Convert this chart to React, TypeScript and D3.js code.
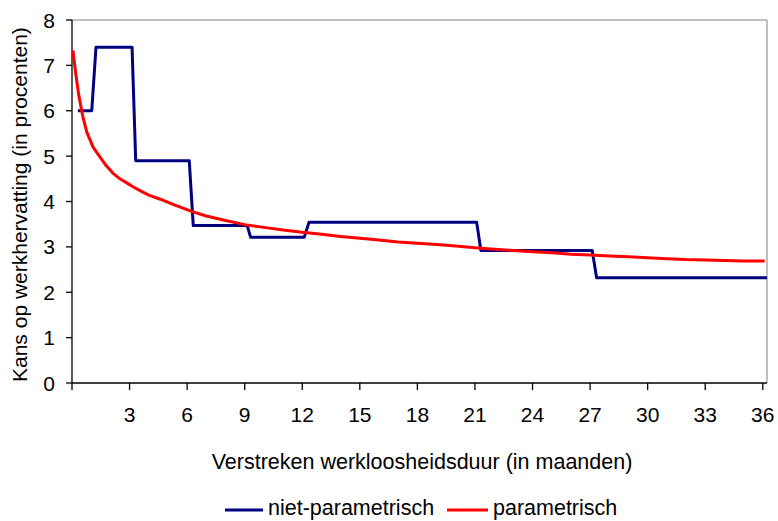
import { useEffect, useRef } from 'react';
import * as d3 from 'd3';

// niet-parametrisch (step estimate)
const blueMonths = [0.31, 1.03, 1.25, 3.13, 3.32, 6.11, 6.32, 9.13, 9.31, 12.1, 12.35, 21.09, 21.31, 27.11, 27.34, 36.22];
const blueValues = [6.0, 6.0, 7.4, 7.4, 4.9, 4.9, 3.47, 3.47, 3.21, 3.21, 3.54, 3.54, 2.92, 2.92, 2.32, 2.32];

// parametrisch (smooth estimate)
const redMonths = [0.05, 0.2, 0.35, 0.55, 0.77, 1.1, 1.46, 1.8, 2.14, 2.5, 2.85, 3.2, 3.5, 4, 4.6, 5.3, 6.3, 7, 8, 9, 10, 11, 12, 13, 14, 15, 16, 17, 18, 19, 20, 21, 22, 23, 24, 25, 26, 27, 28, 29, 30, 31, 32, 33, 34, 35, 36.1];
const redValues = [7.33, 6.8, 6.35, 5.9, 5.53, 5.2, 4.98, 4.78, 4.62, 4.5, 4.41, 4.32, 4.25, 4.14, 4.05, 3.93, 3.77, 3.68, 3.58, 3.49, 3.43, 3.37, 3.32, 3.28, 3.23, 3.19, 3.15, 3.11, 3.08, 3.05, 3.02, 2.98, 2.95, 2.92, 2.89, 2.87, 2.84, 2.82, 2.8, 2.78, 2.76, 2.74, 2.72, 2.71, 2.7, 2.69, 2.69];

const xTicks = [3, 6, 9, 12, 15, 18, 21, 24, 27, 30, 33, 36];
const yTicks = [0, 1, 2, 3, 4, 5, 6, 7, 8];

const seriesNames = ['niet-parametrisch', 'parametrisch'];
const seriesColors = ['#000080', '#FF0000'];

const FONT = 'Liberation Sans, Arial, sans-serif';

export default function App() {
  const svgRef = useRef<SVGSVGElement>(null);

  useEffect(() => {
    document.body.style.margin = '0';
    if (!svgRef.current) return;
    const svg = d3.select(svgRef.current);
    svg.selectAll('*').remove();

    const left = 72, right = 767, top = 20, bottom = 383;

    const x = d3.scaleLinear().domain([0, 36.22]).range([left, right]);
    const y = d3.scaleLinear().domain([0, 8]).range([bottom, top]);

    // gray frame top/right
    svg.append('path')
      .attr('d', `M${left},${top}H${right}V${bottom}`)
      .attr('fill', 'none')
      .attr('stroke', '#808080')
      .attr('stroke-width', 1);

    // y axis
    const yAxis = svg.append('g').attr('transform', `translate(${left},0)`);
    yAxis.append('line').attr('x1', 0).attr('x2', 0).attr('y1', top).attr('y2', bottom)
      .attr('stroke', '#000').attr('stroke-width', 1.3);
    yTicks.forEach(t => {
      yAxis.append('line').attr('x1', -6).attr('x2', 0).attr('y1', y(t)).attr('y2', y(t))
        .attr('stroke', '#000').attr('stroke-width', 1.3);
      yAxis.append('text')
        .attr('x', -17).attr('y', y(t) + 7.5)
        .attr('text-anchor', 'end')
        .attr('font-family', FONT).attr('font-size', 21).attr('fill', '#000')
        .text(t);
    });

    // x axis
    const xAxis = svg.append('g');
    xAxis.append('line').attr('x1', left).attr('x2', right).attr('y1', bottom).attr('y2', bottom)
      .attr('stroke', '#000').attr('stroke-width', 1.3);
    [0, ...xTicks].forEach(t => {
      xAxis.append('line').attr('x1', x(t)).attr('x2', x(t)).attr('y1', bottom).attr('y2', bottom + 7)
        .attr('stroke', '#000').attr('stroke-width', 1.3);
    });
    xTicks.forEach(t => {
      xAxis.append('text')
        .attr('x', x(t)).attr('y', 422)
        .attr('text-anchor', 'middle')
        .attr('font-family', FONT).attr('font-size', 21).attr('fill', '#000')
        .text(t);
    });

    // axis titles
    svg.append('text')
      .attr('x', 422).attr('y', 469)
      .attr('text-anchor', 'middle')
      .attr('font-family', FONT).attr('font-size', 21.5).attr('fill', '#000')
      .text('Verstreken werkloosheidsduur (in maanden)');
    svg.append('text')
      .attr('transform', `translate(27,382) rotate(-90)`)
      .attr('text-anchor', 'start')
      .attr('font-family', FONT).attr('font-size', 21).attr('fill', '#000')
      .text('Kans op werkhervatting (in procenten)');

    // lines
    const line = d3.line<[number, number]>().x(d => x(d[0])).y(d => y(d[1]));
    const blueData = blueMonths.map((m, i) => [m, blueValues[i]] as [number, number]);
    const redData = redMonths.map((m, i) => [m, redValues[i]] as [number, number]);

    svg.append('path').datum(blueData)
      .attr('d', line)
      .attr('fill', 'none').attr('stroke', seriesColors[0]).attr('stroke-width', 3)
      .attr('stroke-linejoin', 'round');
    svg.append('path').datum(redData)
      .attr('d', line)
      .attr('fill', 'none').attr('stroke', seriesColors[1]).attr('stroke-width', 3)
      .attr('stroke-linejoin', 'round');

    // legend
    const legendItems = [
      { x1: 225, x2: 263, tx: 268 },
      { x1: 447, x2: 488, tx: 493 },
    ];
    legendItems.forEach((item, i) => {
      svg.append('line').attr('x1', item.x1).attr('x2', item.x2).attr('y1', 510).attr('y2', 510)
        .attr('stroke', seriesColors[i]).attr('stroke-width', 3);
      svg.append('text')
        .attr('x', item.tx).attr('y', 515)
        .attr('font-family', FONT).attr('font-size', 21.5).attr('fill', '#000')
        .text(seriesNames[i]);
    });
  }, []);

  return <svg ref={svgRef} width={778} height={521} style={{ display: 'block', background: '#fff' }} />;
}
